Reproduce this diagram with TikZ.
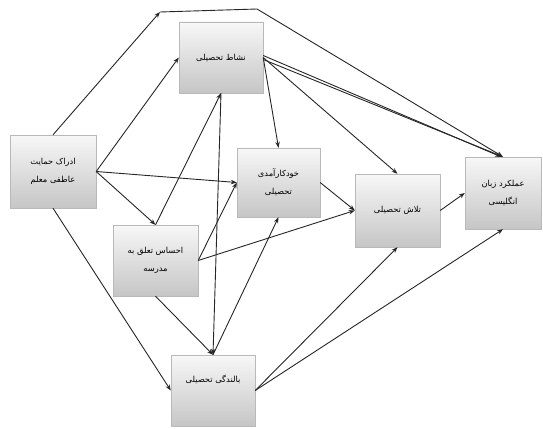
\documentclass[tikz,border=0pt]{standalone}
\usepackage{fontspec}
\newfontfamily\arabicfont[Script=Arabic]{DejaVu Sans}
\TeXXeTstate=1
\usetikzlibrary{arrows.meta,shadows}
\begin{document}
\begin{tikzpicture}[x=1pt,y=-1pt,
  box/.style={rectangle, draw=gray!55, line width=0.4pt, top color=gray!6, bottom color=gray!45,
    drop shadow={shadow xshift=1.2pt, shadow yshift=-1.2pt, fill=black!80, opacity=1},
    inner sep=0pt, align=center, font=\arabicfont\fontsize{8.3}{18}\selectfont},
  arr/.style={-{Stealth[length=6pt,width=4.5pt]}, line width=0.9pt, black!85}]
\useasboundingbox (0,0) rectangle (543,428);
\node[box, minimum width=86pt, minimum height=73pt] (A) at (53,171.5) {\beginR ادراک حمایت\endR\\\beginR عاطفی معلم\endR};
\node[box, minimum width=84pt, minimum height=71pt] (B) at (221,57.5) {\beginR نشاط تحصیلی\endR};
\node[box, minimum width=83pt, minimum height=69pt] (C) at (278.5,182.5) {\beginR خودکارآمدی\endR\\\beginR تحصیلی\endR};
\node[box, minimum width=85pt, minimum height=71pt] (D) at (155.5,260.5) {\beginR احساس تعلق به\endR\\\beginR مدرسه\endR};
\node[box, minimum width=84pt, minimum height=71pt] (E) at (213,390.5) {\beginR بالندگی تحصیلی\endR\\[6pt]};
\node[box, minimum width=85pt, minimum height=73pt] (F) at (397.5,210.5) {\beginR تلاش تحصیلی\endR};
\node[box, minimum width=76pt, minimum height=72pt] (G) at (503,193) {\beginR عملکرد زبان\endR\\\beginR انگلیسی\endR};
\coordinate (p1) at (160,12);
\coordinate (p2) at (257,9);
% from A
\draw[arr] (A.north) -- (p1);
\draw[arr] (p1) -- (p2) -- (G.north);
\draw[arr] (A.east) -- (B.west);
\draw[arr] (A.east) -- (C.west);
\draw[arr] (A.east) -- (D.north);
\draw[arr] (A.south) -- (E.west);
% from B
\draw[arr] (B.east) -- (C.north);
\draw[arr] (B.east) -- (F.north);
\draw[arr] ([yshift=-2pt]B.east) -- (G.north);
\draw[arr] ([yshift=2pt]B.east) -- ([xshift=-2pt]G.north);
\draw[arr] (B.south) -- (E.north);
% from D
\draw[arr] (D.north) -- (B.south);
\draw[arr] (D.east) -- (C.west);
\draw[arr] (D.east) -- (F.west);
\draw[arr] (D.south) -- (E.north);
% others
\draw[arr] (E.north) -- (C.south);
\draw[arr] (C.east) -- (F.west);
\draw[arr] (E.east) -- (F.south);
\draw[arr] (E.east) -- (G.south);
\draw[arr] (F.east) -- (G.west);
\end{tikzpicture}
\end{document}
